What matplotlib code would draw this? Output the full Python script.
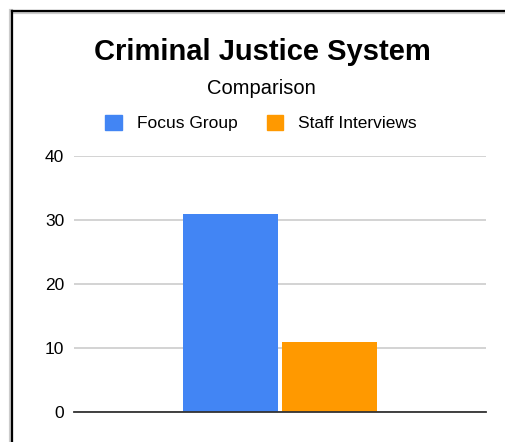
import matplotlib
matplotlib.use("Agg")
import matplotlib.pyplot as plt
from matplotlib.lines import Line2D
from matplotlib.patches import Patch

plt.rcParams['font.family'] = ['Liberation Sans', 'DejaVu Sans']

title = "Criminal Justice System"
subtitle = "Comparison"
series = ["Focus Group", "Staff Interviews"]
values = [31, 11]
colors = ["#4285f4", "#ff9900"]
yticks = [0, 10, 20, 30, 40]

W, H = 505, 442
fig = plt.figure(figsize=(W / 100, H / 100), dpi=100)

# frame lines (screenshot border)
fig.add_artist(Line2D([11 / W, 11 / W], [0, 1 - 11 / H], color="#cccccc", lw=3.0, transform=fig.transFigure))
fig.add_artist(Line2D([12 / W, 1], [1 - 12 / H, 1 - 12 / H], color="#cccccc", lw=3.0, transform=fig.transFigure))
fig.add_artist(Line2D([12 / W, 12 / W], [0, 1 - 11 / H], color="black", lw=1.6, transform=fig.transFigure))
fig.add_artist(Line2D([12 / W, 1], [1 - 11 / H, 1 - 11 / H], color="black", lw=1.6, transform=fig.transFigure))

ax = fig.add_axes([74 / W, 1 - 412 / H, 412 / W, 256 / H])
bw = 0.23
gap = 0.012
xs = [-(bw + gap) / 2, (bw + gap) / 2]
for x, v, c in zip(xs, values, colors):
    ax.bar(x, v, width=bw, color=c, zorder=3)
ax.set_xlim(-0.5, 0.5)
ax.set_ylim(0, 40)
ax.set_yticks(yticks)
ax.tick_params(axis='y', length=0, pad=7, labelsize=12.5)
ax.set_xticks([])
ax.grid(axis='y', color="#cccccc", lw=1.2, zorder=0)
for s in ["top", "right", "left"]:
    ax.spines[s].set_visible(False)
ax.spines["bottom"].set_color("#333333")
ax.spines["bottom"].set_linewidth(1.3)
ax.spines["bottom"].set_zorder(4)

fig.text(262 / W, 1 - 52 / H, title, ha="center", va="center", fontsize=21, fontweight="bold")
fig.text(261 / W, 1 - 88 / H, subtitle, ha="center", va="center", fontsize=14.5)

handles = [Patch(color=c, label=s) for s, c in zip(series, colors)]
fig.legend(handles=handles, loc="center", bbox_to_anchor=(261 / W, 1 - 123 / H), ncol=2,
           frameon=False, fontsize=12.5, handlelength=0.95, handleheight=0.95,
           handletextpad=0.85, columnspacing=1.7)

fig.savefig("out.png", dpi=100)
